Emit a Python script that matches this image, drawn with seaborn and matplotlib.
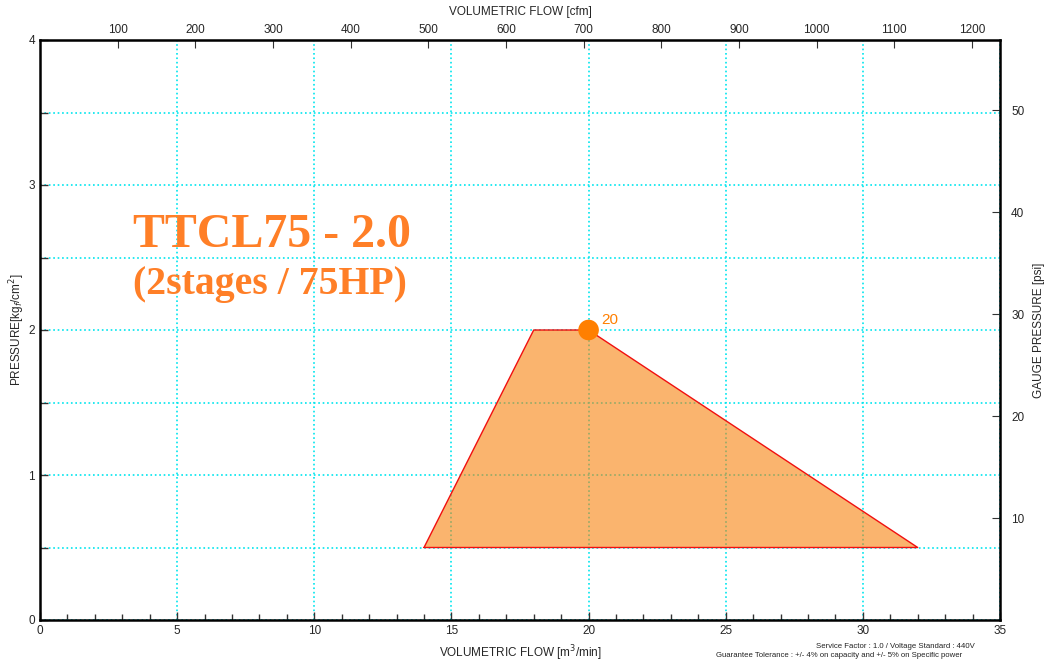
import numpy as np
import seaborn as sns
import matplotlib.pyplot as plt
from matplotlib.ticker import MultipleLocator

# operating envelope (m3/min, kg/cm2)
envelope_flow = [14, 18, 20, 32, 14]
envelope_pressure = [0.5, 2.0, 2.0, 0.5, 0.5]

# rated point
rated_flow = [20]
rated_pressure = [2.0]
rated_label = "20"

flow_ticks = [0, 5, 10, 15, 20, 25, 30, 35]
pressure_ticks = [0, 1, 2, 3, 4]
cfm_ticks = [100, 200, 300, 400, 500, 600, 700, 800, 900, 1000, 1100, 1200]
psi_ticks = [10, 20, 30, 40, 50]

model_name = "TTCL75 - 2.0"
model_desc = "(2stages / 75HP)"

M3_TO_CFM = 35.3147
KG_TO_PSI = 14.2233


def m3_to_cfm(x):
    return x * M3_TO_CFM


def cfm_to_m3(x):
    return x / M3_TO_CFM


def kg_to_psi(y):
    return y * KG_TO_PSI


def psi_to_kg(y):
    return y / KG_TO_PSI


sns.set_style("white")
plt.rcParams['font.family'] = ['Liberation Sans', 'DejaVu Sans']

fig = plt.figure(figsize=(10.44, 6.61), dpi=100)
ax = fig.add_axes([40 / 1044, 1 - 620 / 661, 960 / 1044, 580 / 661])

ax.set_xlim(0, 35)
ax.set_ylim(0, 4)

# grid (drawn under the envelope, seen through it)
half_steps = np.arange(0, 4.01, 0.5)
ax.set_xticks(flow_ticks)
ax.set_yticks(half_steps)
ax.set_yticklabels([str(int(v)) if v in pressure_ticks else "" for v in half_steps])
ax.xaxis.set_minor_locator(MultipleLocator(1))
ax.grid(True, which='major', color='#00E5EE', linestyle=':', linewidth=1.2)
ax.set_axisbelow(True)

ax.fill(envelope_flow, envelope_pressure, color='#F7820D', alpha=0.6, linewidth=0, zorder=2)
sns.lineplot(x=envelope_flow, y=envelope_pressure, sort=False, estimator=None,
             color='#F01010', linewidth=1.0, ax=ax, zorder=3)
sns.scatterplot(x=rated_flow, y=rated_pressure, color='#FF7F00', s=220,
                edgecolor='none', ax=ax, zorder=4)
ax.annotate(rated_label, (rated_flow[0], rated_pressure[0]), xytext=(9, 4),
            textcoords='offset points', color='#FF7F00', fontsize=11)

ax.text(3.4, 2.655, model_name, family='Liberation Serif', weight='bold',
        fontsize=34.5, color='#FF7F27', va='center', ha='left')
ax.text(3.4, 2.315, model_desc, family='Liberation Serif', weight='bold',
        fontsize=28.6, color='#FF7F27', va='center', ha='left')

for s in ax.spines.values():
    s.set_color('black')
    s.set_linewidth(1.8)

ax.tick_params(which='both', direction='in', labelsize=8.5, color='#333333',
               bottom=True, left=True, top=False, right=False)
ax.tick_params(which='major', length=6, width=1)
ax.tick_params(which='minor', length=4, width=1)
ax.tick_params(axis='y', which='minor', left=False)
ax.set_xlabel("VOLUMETRIC FLOW [m$^3$/min]", fontsize=8.5, va='center')
ax.set_ylabel("PRESSURE[kg$_f$/cm$^2$]", fontsize=8.5, va='center')
ax.xaxis.set_label_coords(0.5, -0.057)
ax.yaxis.set_label_coords(-0.024, 0.5)

top = ax.secondary_xaxis('top', functions=(m3_to_cfm, cfm_to_m3))
top.set_xticks(cfm_ticks)
top.tick_params(direction='in', labelsize=8.5, length=6, color='#333333', pad=3, top=True)
top.set_xlabel("VOLUMETRIC FLOW [cfm]", fontsize=8.5, labelpad=6)

right = ax.secondary_yaxis('right', functions=(kg_to_psi, psi_to_kg))
right.set_yticks(psi_ticks)
right.tick_params(direction='in', labelsize=8.5, length=6, color='#333333', pad=8, right=True)
right.set_ylabel("GAUGE PRESSURE [psi]", fontsize=8.5, labelpad=6)

fig.text(895 / 1044, 1 - 647 / 661, "Service Factor : 1.0 / Voltage Standard : 440V",
         fontsize=5.6, ha='center', va='center', color='#222222')
fig.text(716 / 1044, 1 - 659 / 661,
         "Guarantee Tolerance : +/- 4% on capacity and +/- 5% on Specific power",
         fontsize=5.6, ha='left', va='bottom', color='#222222')

fig.savefig("out.png", dpi=100)
